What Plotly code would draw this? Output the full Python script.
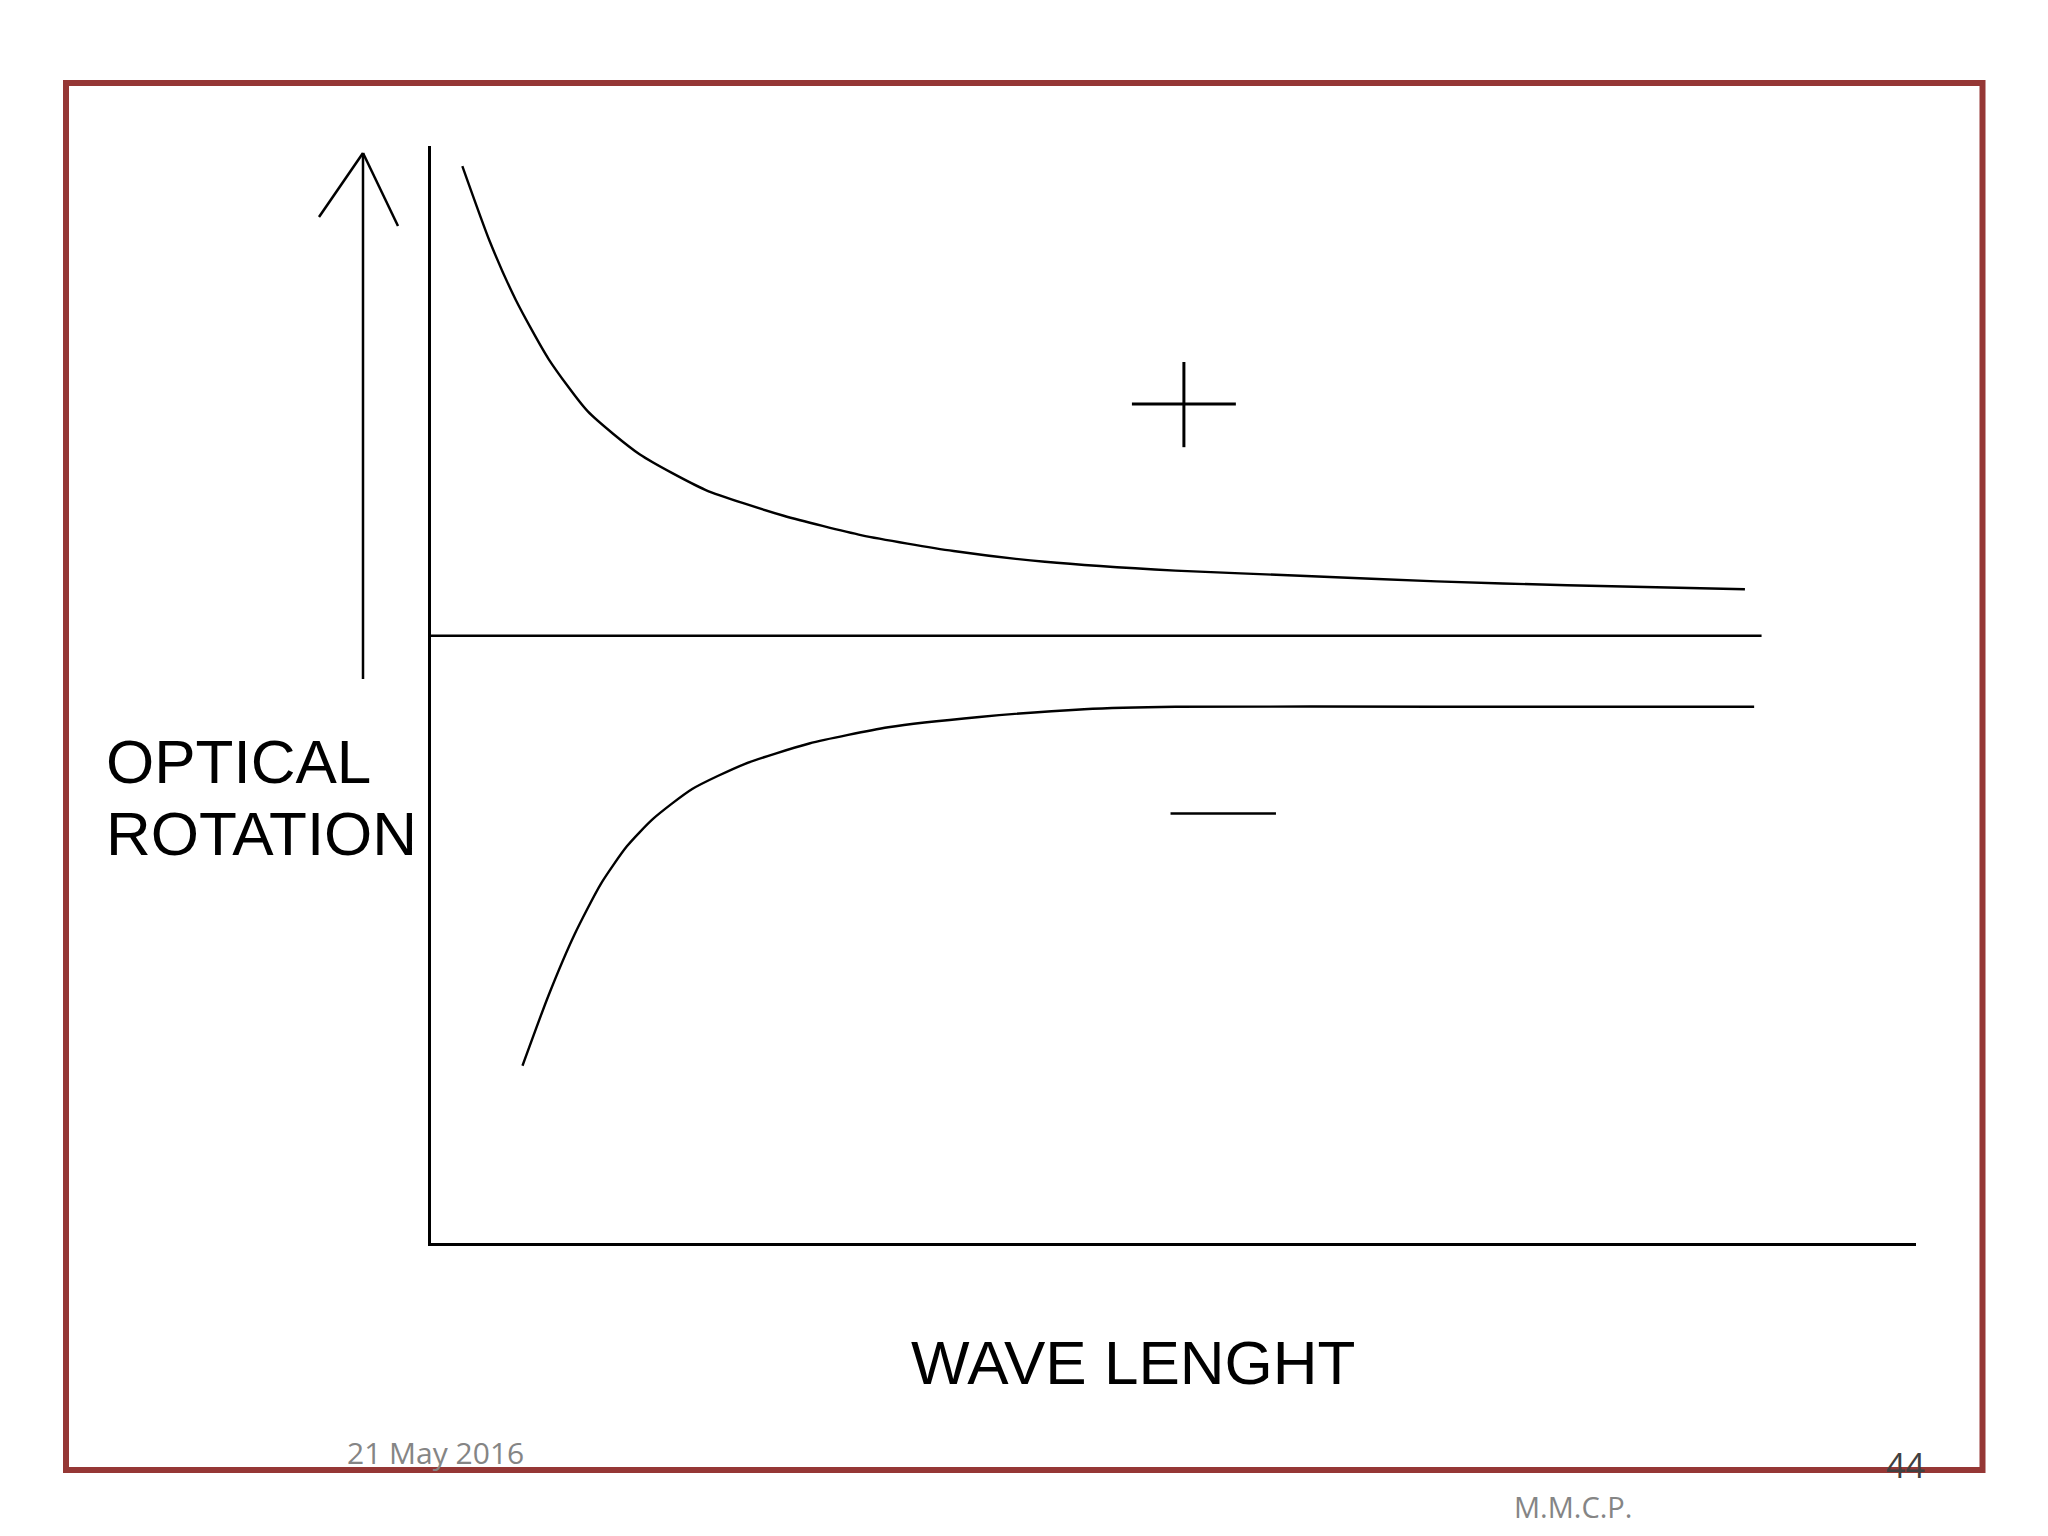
import plotly.graph_objects as go

# ---------------- data ----------------
wavelength_upper = [2.11, 3.96, 5.72, 7.92, 10.56, 14.07, 18.47, 23.75, 29.02, 35.19, 41.34, 50.13, 58.93, 67.72, 76.52, 88.48]
rotation_upper = [9.59, 8.05, 6.85, 5.65, 4.58, 3.70, 2.98, 2.45, 2.05, 1.73, 1.51, 1.33, 1.22, 1.11, 1.03, 0.95]

wavelength_lower = [6.16, 7.92, 9.68, 11.43, 13.19, 14.95, 17.59, 21.11, 25.47, 30.79, 36.93, 43.98, 50.13, 67.72, 89.10]
rotation_lower = [-8.78, -7.34, -6.09, -5.07, -4.30, -3.74, -3.13, -2.62, -2.20, -1.87, -1.66, -1.50, -1.45, -1.45, -1.45]

wavelength_zero = [0, 89.6]
rotation_zero = [0, 0]

plus_h_x = [47.2, 54.2]
plus_h_y = [4.73, 4.73]
plus_v_x = [50.7, 50.7]
plus_v_y = [5.59, 3.85]
minus_x = [49.8, 56.9]
minus_y = [-3.63, -3.63]

x_range = [0, 100]
y_range = [-12.4, 10]

y_label_lines = ["OPTICAL", "ROTATION"]
x_label = "WAVE LENGHT"
footer_date = "21 May 2016"
footer_page = "44"
footer_author = "M.M.C.P."

# ---------------- layout geometry (pixels) ----------------
W, H = 2048, 1536
L, R, T, B = 431, 1916, 146, 1243


def px(x):
    return (x - L) / (R - L)


def py(y):
    return (B - y) / (B - T)


fig = go.Figure()

fig.add_trace(go.Scatter(x=wavelength_upper, y=rotation_upper, mode="lines",
                         line=dict(color="black", width=2.4, shape="spline", smoothing=0.6)))
fig.add_trace(go.Scatter(x=wavelength_lower, y=rotation_lower, mode="lines",
                         line=dict(color="black", width=2.4, shape="spline", smoothing=0.6)))
fig.add_trace(go.Scatter(x=wavelength_zero, y=rotation_zero, mode="lines", line=dict(color="black", width=2.5)))
fig.add_trace(go.Scatter(x=plus_h_x, y=plus_h_y, mode="lines", line=dict(color="black", width=3)))
fig.add_trace(go.Scatter(x=plus_v_x, y=plus_v_y, mode="lines", line=dict(color="black", width=3)))
fig.add_trace(go.Scatter(x=minus_x, y=minus_y, mode="lines", line=dict(color="black", width=2.5)))

shapes = []
# slide border
shapes.append(dict(type="rect", xref="paper", yref="paper",
                   x0=px(66), x1=px(1982.5), y0=py(1470), y1=py(83),
                   line=dict(color="#953735", width=6), layer="below"))
# vertical arrow
for (xa, ya) in [(363, 679), (319, 217), (398, 226)]:
    shapes.append(dict(type="line", xref="paper", yref="paper",
                       x0=px(xa), y0=py(ya), x1=px(363), y1=py(153),
                       line=dict(color="black", width=2.5)))

annotations = []
for txt, yc in zip(y_label_lines, [761.5, 833.5]):
    annotations.append(dict(text=txt, xref="paper", yref="paper", x=px(104), y=py(yc),
                            xanchor="left", yanchor="middle", showarrow=False,
                            font=dict(family="Liberation Sans, Arial", size=62, color="black")))
annotations.append(dict(text=x_label, xref="paper", yref="paper", x=px(1133), y=py(1362.5),
                        xanchor="center", yanchor="middle", showarrow=False,
                        font=dict(family="Liberation Sans, Arial", size=62, color="black")))
annotations.append(dict(text=footer_date, xref="paper", yref="paper", x=px(345), y=py(1452),
                        xanchor="left", yanchor="middle", showarrow=False,
                        font=dict(family="Open Sans", size=30, color="#858585")))
annotations.append(dict(text=footer_page, xref="paper", yref="paper", x=px(1905), y=py(1465),
                        xanchor="center", yanchor="middle", showarrow=False,
                        font=dict(family="Open Sans", size=34, color="#404040")))
annotations.append(dict(text=footer_author, xref="paper", yref="paper", x=px(1512), y=py(1506),
                        xanchor="left", yanchor="middle", showarrow=False,
                        font=dict(family="Open Sans", size=29, color="#858585")))

fig.update_layout(
    width=W, height=H,
    margin=dict(l=L, r=W - R, t=T, b=H - B, pad=0),
    paper_bgcolor="white", plot_bgcolor="white",
    showlegend=False,
    shapes=shapes, annotations=annotations,
    xaxis=dict(range=x_range, showline=True, linecolor="black", linewidth=2.5,
               showgrid=False, zeroline=False, showticklabels=False, ticks="", fixedrange=True),
    yaxis=dict(range=y_range, showline=True, linecolor="black", linewidth=2.5,
               showgrid=False, zeroline=False, showticklabels=False, ticks="", fixedrange=True),
)

fig.write_html("out.html", config={"displayModeBar": False},
               post_script="document.body.style.margin='0';")
